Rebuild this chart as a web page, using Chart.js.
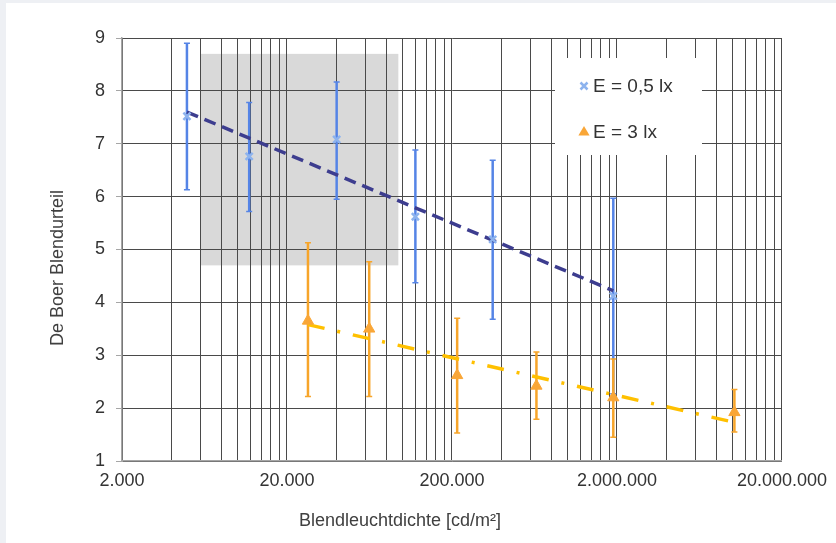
<!DOCTYPE html>
<html>
<head>
<meta charset="utf-8">
<script src="https://cdn.jsdelivr.net/npm/chart.js@4"></script>
<style>
  html, body { margin: 0; padding: 0; background: #eef0f4; }
  .card { position: absolute; left: 6px; top: 3px; width: 830px; height: 540px; background: #fff; }
  canvas { display: block; }
</style>
</head>
<body>
<div class="card"><canvas id="chart" width="830" height="540"></canvas></div>
<script>
// DADOS
const tickValues = [2000, 20000, 200000, 2000000, 20000000];
const tickLabels = ["2.000", "20.000", "200.000", "2.000.000", "20.000.000"];
const gridMultiples = [1, 2, 3, 4, 5, 6, 7, 8, 9];

const seriesNames = ["E = 0,5 lx", "E = 3 lx"];

const blueX = [4950, 11800, 40000, 120000, 353000, 1900000];
const blueY = [7.52, 6.76, 7.08, 5.62, 5.19, 4.12];
const blueLow = [6.13, 5.72, 5.95, 4.37, 3.68, 2.27];
const blueHigh = [8.9, 7.78, 8.17, 6.88, 6.69, 5.97];

const orangeX = [26800, 63000, 215000, 650000, 1900000, 10300000];
const orangeY = [3.65, 3.5, 2.62, 2.42, 2.2, 1.92];
const orangeLow = [2.22, 2.22, 1.53, 1.79, 1.45, 1.55];
const orangeHigh = [5.13, 4.77, 3.70, 3.06, 2.93, 2.35];

const blueTrendX = [4950, 1900000];
const blueTrendY = [7.6, 4.22];
const orangeTrendX = [26800, 10000000];
const orangeTrendY = [3.58, 1.74];

// grauer Bereich
const boxX = [6000, 94600];
const boxY = [4.7, 8.7];

const FONT = "'Liberation Sans', Arial, sans-serif";

// gridlines at 2000, 4000, 6000 ... per decade
const xGrid = [];
tickValues.forEach((d, i) => {
    if (i === tickValues.length - 1) xGrid.push(d);
    else gridMultiples.forEach(k => xGrid.push(d * k));
});

function toPoints(xs, ys) {
    return xs.map((x, i) => ({ x: x, y: ys[i] }));
}

// FEHLERBALKEN
const errorBars = {
    id: "errorBars",
    beforeDatasetsDraw(chart) {
        const ctx = chart.ctx;
        const x = chart.scales.x;
        const y = chart.scales.y;
        chart.data.datasets.forEach(ds => {
            if (!ds.errLow) return;
            ctx.save();
            ctx.strokeStyle = ds.errColor;
            ctx.lineWidth = 2.5;
            ds.data.forEach((p, i) => {
                const px = x.getPixelForValue(p.x);
                const top = y.getPixelForValue(ds.errHigh[i]);
                const bot = y.getPixelForValue(ds.errLow[i]);
                ctx.beginPath();
                ctx.moveTo(px, top);
                ctx.lineTo(px, bot);
                ctx.stroke();
                ctx.lineWidth = 1.5;
                ctx.beginPath();
                ctx.moveTo(px - 3, top);
                ctx.lineTo(px + 3, top);
                ctx.moveTo(px - 3, bot);
                ctx.lineTo(px + 3, bot);
                ctx.stroke();
                ctx.lineWidth = 2.5;
            });
            ctx.restore();
        });
    }
};

// GRAUE FLAECHE
const grayBox = {
    id: "grayBox",
    beforeDraw(chart) {
        const ctx = chart.ctx;
        const x = chart.scales.x;
        const y = chart.scales.y;
        const l = x.getPixelForValue(boxX[0]);
        const r = x.getPixelForValue(boxX[1]);
        const t = y.getPixelForValue(boxY[1]);
        const b = y.getPixelForValue(boxY[0]);
        ctx.save();
        ctx.fillStyle = "#d9d9d9";
        ctx.fillRect(l, t, r - l, b - t);
        ctx.restore();
    }
};

// LEGENDE + ACHSENTITEL
const extras = {
    id: "extras",
    afterDraw(chart) {
        const ctx = chart.ctx;
        const a = chart.chartArea;
        ctx.save();

        // legend box
        const lx = a.left + 433, ly = a.top + 20;
        ctx.fillStyle = "#fff";
        ctx.fillRect(lx, ly, 147, 97);

        // cross marker
        const mx = lx + 29, my1 = ly + 28, my2 = ly + 74;
        ctx.strokeStyle = "#8db3ee";
        ctx.lineWidth = 2.5;
        ctx.beginPath();
        ctx.moveTo(mx - 3.5, my1 - 3.5); ctx.lineTo(mx + 3.5, my1 + 3.5);
        ctx.moveTo(mx + 3.5, my1 - 3.5); ctx.lineTo(mx - 3.5, my1 + 3.5);
        ctx.stroke();

        // triangle marker
        ctx.fillStyle = "#f9a637";
        ctx.beginPath();
        ctx.moveTo(mx, my2 - 6);
        ctx.lineTo(mx + 5.6, my2 + 3.5);
        ctx.lineTo(mx - 5.6, my2 + 3.5);
        ctx.closePath();
        ctx.fill();

        ctx.fillStyle = "#333";
        ctx.font = "19px " + FONT;
        ctx.textAlign = "left";
        ctx.textBaseline = "middle";
        ctx.fillText(seriesNames[0], mx + 9, my1 + 1);
        ctx.fillText(seriesNames[1], mx + 9, my2 + 1);

        // axis titles
        ctx.fillStyle = "#404040";
        ctx.font = "18px " + FONT;
        ctx.textAlign = "center";
        ctx.fillText("Blendleuchtdichte [cd/m²]", 394, 518);
        ctx.translate(52, 265);
        ctx.rotate(-Math.PI / 2);
        ctx.fillText("De Boer Blendurteil", 0, 0);
        ctx.restore();
    }
};

const chart = new Chart(document.getElementById("chart"), {
    type: "scatter",
    data: {
        datasets: [
            {
                label: seriesNames[0],
                data: toPoints(blueX, blueY),
                errLow: blueLow,
                errHigh: blueHigh,
                errColor: "#5584e6",
                pointStyle: "crossRot",
                pointRadius: 5,
                borderColor: "#8db3ee",
                borderWidth: 2.5,
                order: 0
            },
            {
                label: seriesNames[1],
                data: toPoints(orangeX, orangeY),
                errLow: orangeLow,
                errHigh: orangeHigh,
                errColor: "#f7a52a",
                pointStyle: "triangle",
                pointRadius: 6.5,
                backgroundColor: "#f9a637",
                borderColor: "#f9a637",
                borderWidth: 1,
                order: 0
            },
            {
                label: "Trend 0,5 lx",
                data: toPoints(blueTrendX, blueTrendY),
                showLine: true,
                borderColor: "#3d3d8f",
                borderWidth: 3.5,
                borderDash: [12, 7],
                pointRadius: 0,
                order: 2
            },
            {
                label: "Trend 3 lx",
                data: toPoints(orangeTrendX, orangeTrendY),
                showLine: true,
                borderColor: "#ffc000",
                borderWidth: 3.5,
                borderDash: [17, 13, 3, 13],
                pointRadius: 0,
                order: 2
            }
        ]
    },
    options: {
        responsive: false,
        animation: false,
        devicePixelRatio: 1,
        layout: { padding: { top: 35, right: 50, left: 0, bottom: 0 } },
        plugins: {
            legend: { display: false },
            tooltip: { enabled: false }
        },
        scales: {
            x: {
                type: "logarithmic",
                min: 2000,
                max: 20000000,
                afterBuildTicks(scale) {
                    scale.ticks = xGrid.map(v => ({ value: v }));
                },
                afterFit(scale) { scale.height = 82; },
                ticks: {
                    autoSkip: false,
                    maxRotation: 0,
                    padding: 9,
                    color: "#333",
                    font: { family: FONT, size: 18 },
                    callback(value) {
                        const i = tickValues.indexOf(value);
                        return i >= 0 ? tickLabels[i] : "";
                    }
                },
                grid: { color: "#4a4a4a", lineWidth: 1, drawTicks: false },
                border: { color: "#a6a6a6", width: 1.5 }
            },
            y: {
                min: 1,
                max: 9,
                afterFit(scale) { scale.width = 116; },
                ticks: {
                    stepSize: 1,
                    padding: 11,
                    color: "#333",
                    font: { family: FONT, size: 18 }
                },
                grid: { color: "#4a4a4a", lineWidth: 1, tickLength: 6, tickColor: "#a6a6a6" },
                border: { color: "#a6a6a6", width: 1.5 }
            }
        }
    },
    plugins: [grayBox, errorBars, extras]
});
</script>
</body>
</html>
